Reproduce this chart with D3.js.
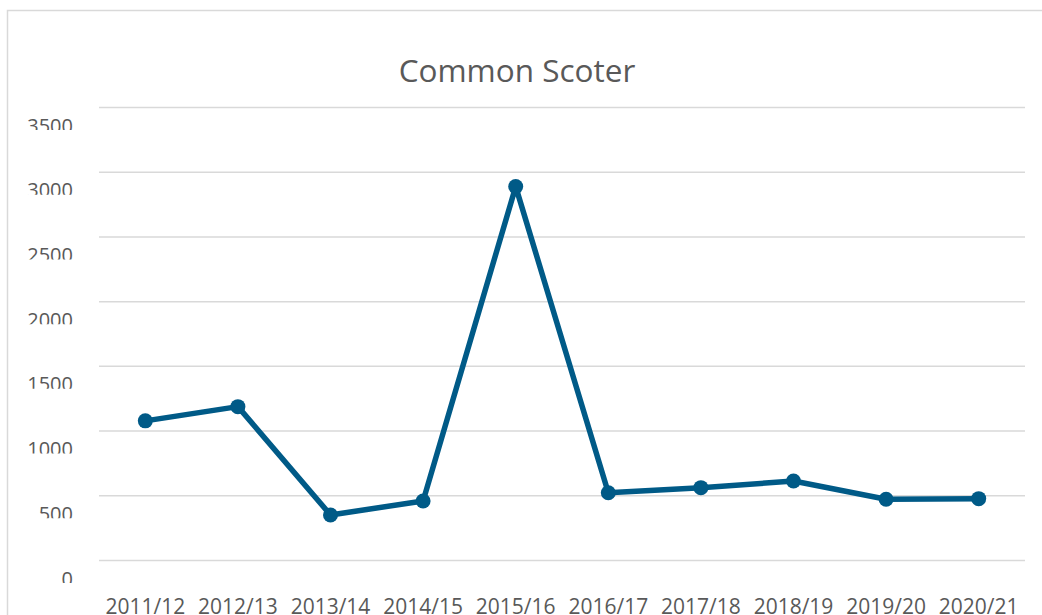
<!DOCTYPE html>
<html>
<head>
<meta charset="utf-8">
<script src="https://cdn.jsdelivr.net/npm/d3@7"></script>
<style>
  html, body { margin: 0; padding: 0; background: #fff; }
  svg { display: block; }
</style>
</head>
<body>
<script>
const categories = ["2011/12","2012/13","2013/14","2014/15","2015/16","2016/17","2017/18","2018/19","2019/20","2020/21"];
const values = [1075, 1185, 348, 456, 2885, 520, 559, 610, 469, 474];
const yTicks = [0, 500, 1000, 1500, 2000, 2500, 3000, 3500];
const title = "Common Scoter";

const W = 1042, H = 615;
const svg = d3.select("body").append("svg").attr("width", W).attr("height", H);

svg.append("rect").attr("width", W).attr("height", H).attr("fill", "#fff");
// chart frame (extends past the viewport)
svg.append("rect")
  .attr("x", 7.5).attr("y", 10.5).attr("width", 1200).attr("height", 800)
  .attr("fill", "#fff").attr("stroke", "#d9d9d9").attr("stroke-width", 1.5);

const x = d3.scaleBand().domain(categories).range([99, 1025]);
const y = d3.scaleLinear().domain([0, 3500]).range([560, 107]);

// gridlines
const yAxis = d3.axisLeft(y).tickValues(yTicks).tickSize(-(1025 - 99)).tickFormat("");
const gy = svg.append("g").attr("transform", "translate(99,0)").call(yAxis);
gy.select(".domain").remove();
gy.selectAll(".tick line").attr("stroke", "#d9d9d9").attr("stroke-width", 1.5);

// y tick labels (clipped at the bottom like the reference)
const defs = svg.append("defs");
yTicks.forEach((t, i) => {
  defs.append("clipPath").attr("id", "yc" + i)
    .append("rect").attr("x", 0).attr("y", y(t) + 2).attr("width", 95).attr("height", 21);
});
svg.append("g").selectAll("text").data(yTicks).join("text")
  .attr("clip-path", (d, i) => "url(#yc" + i + ")")
  .attr("x", 73).attr("y", d => y(d) + 25.5)
  .attr("text-anchor", "end")
  .attr("font-family", "'Open Sans', sans-serif").attr("font-size", 20)
  .attr("fill", "#595959")
  .text(d => d);

// x tick labels
const xAxis = d3.axisBottom(x).tickSize(0).tickPadding(0);
const gx = svg.append("g").attr("transform", "translate(0,598)").call(xAxis);
gx.select(".domain").remove();
gx.selectAll(".tick text")
  .attr("dy", null).attr("y", 16)
  .attr("font-family", "'Open Sans', sans-serif").attr("font-size", 21)
  .attr("fill", "#595959");

// title
svg.append("text")
  .attr("x", 517).attr("y", 82)
  .attr("text-anchor", "middle")
  .attr("font-family", "'Open Sans', sans-serif").attr("font-size", 31.5)
  .attr("fill", "#595959")
  .text(title);

// line
const data = categories.map((c, i) => ({ c, v: values[i] }));
const line = d3.line().x(d => x(d.c) + x.bandwidth() / 2).y(d => y(d.v));
svg.append("path").datum(data)
  .attr("d", line).attr("fill", "none")
  .attr("stroke", "#005a87").attr("stroke-width", 5.5).attr("stroke-linejoin", "round");

svg.append("g").selectAll("circle").data(data).join("circle")
  .attr("cx", d => x(d.c) + x.bandwidth() / 2).attr("cy", d => y(d.v))
  .attr("r", 7.5).attr("fill", "#005a87");
</script>
</body>
</html>
